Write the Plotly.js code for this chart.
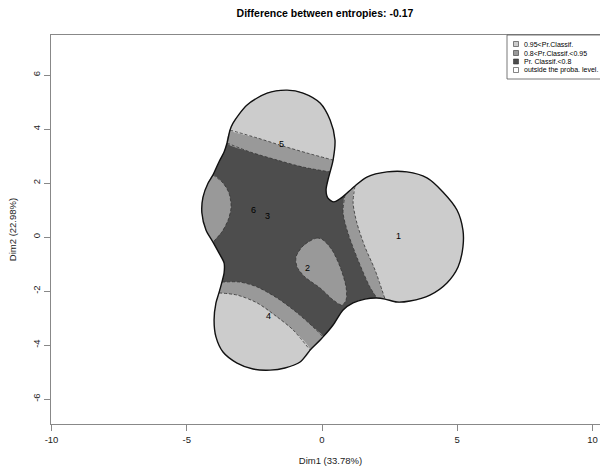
<!DOCTYPE html>
<html><head><meta charset="utf-8">
<script src="https://cdn.plot.ly/plotly-3.0.1.min.js"></script>
<style>html,body{margin:0;padding:0;overflow:hidden;background:#fff}#chart{width:610px;height:469px}</style>
</head><body><div id="chart"></div><script>
// ---- data (Dim1, Dim2 coordinates) ----
const outlineX = [-3.51,-3.40,-3.29,-2.77,-2.03,-1.29,-0.70,-0.07,0.30,0.48,0.41,0.30,0.22,0.15,0.22,0.44,0.70,0.85,1.22,1.66,2.40,3.14,3.88,4.47,4.99,5.21,5.21,5.03,4.62,3.99,3.25,2.77,2.33,2.03,1.59,1.15,0.78,0.41,0.04,-0.44,-0.81,-1.37,-1.92,-2.55,-3.14,-3.66,-3.92,-3.99,-3.92,-3.81,-3.70,-3.62,-3.62,-3.81,-4.03,-4.29,-4.44,-4.40,-4.21,-4.03,-3.81,-3.62];
const outlineY = [3.48,3.96,4.22,4.89,5.33,5.44,5.33,4.96,4.33,3.59,2.85,2.41,2.11,1.74,1.44,1.30,1.44,1.56,1.89,2.22,2.41,2.41,2.19,1.67,1.00,0.26,-0.37,-1.11,-1.70,-2.15,-2.37,-2.41,-2.30,-2.26,-2.30,-2.44,-2.70,-3.26,-3.70,-4.19,-4.63,-4.85,-4.93,-4.89,-4.67,-4.26,-3.70,-3.07,-2.44,-2.07,-1.67,-1.33,-0.96,-0.59,-0.19,0.26,0.89,1.48,2.00,2.30,2.78,3.15];

const topLightMidX = [-3.40,-2.40,-1.44,-0.55,0.41];
const topLightMidY = [3.96,3.67,3.37,3.11,2.85];
const topMidDarkX = [-3.51,-2.66,-1.66,-0.70,0.30];
const topMidDarkY = [3.48,3.15,2.85,2.59,2.41];

const rightLightMidX = [1.22,1.15,1.29,1.59,1.96,2.33];
const rightLightMidY = [1.89,1.26,0.52,-0.37,-1.22,-2.30];
const rightMidDarkX = [0.85,0.78,0.96,1.33,1.77,2.03];
const rightMidDarkY = [1.56,0.89,0.15,-0.85,-1.85,-2.26];

const bottomMidDarkX = [-3.70,-3.03,-2.40,-1.66,-0.92,-0.33,0.04];
const bottomMidDarkY = [-1.67,-1.67,-1.85,-2.26,-2.81,-3.33,-3.70];
const bottomLightMidX = [-3.81,-3.14,-2.40,-1.66,-1.07,-0.44];
const bottomLightMidY = [-2.07,-2.15,-2.44,-2.96,-3.44,-4.19];

const leftBulgeX = [-3.66,-3.44,-3.36,-3.47,-3.70];
const leftBulgeY = [2.00,1.63,1.11,0.63,0.19];

const islandX = [-0.52,-0.18,0.04,0.37,0.67,0.89,0.89,0.74,0.41,-0.07,-0.63,-0.92,-0.96,-0.74];
const islandY = [-0.19,-0.04,-0.11,-0.48,-1.11,-1.85,-2.33,-2.52,-2.33,-1.89,-1.48,-1.11,-0.74,-0.37];

const labelText = ['1','2','3','4','5','6'];
const labelX = [2.81,-0.55,-2.00,-1.96,-1.48,-2.55];
const labelY = [0.04,-1.15,0.78,-2.93,3.44,1.00];

const legendLabels = ['0.95<Pr.Classif.','0.8<Pr.Classif.<0.95','Pr. Classif.<0.8','outside the proba. level.'];
const legendColors = ['#cccccc','#999999','#4d4d4d','#ffffff'];

const xTicks = [-10,-5,0,5,10];
const yTicks = [-6,-4,-2,0,2,4,6];

// ---- build ----
const cLight = legendColors[0], cMid = legendColors[1], cDark = legendColors[2];
function sl(a,i,j){return a.slice(i,j+1);}
function rev(a){return a.slice().reverse();}
function fillTrace(x,y,color){
  return {type:'scatter',mode:'lines',x:x,y:y,fill:'toself',fillcolor:color,
    line:{width:0,shape:'spline',smoothing:0.8},hoverinfo:'skip',showlegend:false};
}
function dashTrace(x,y){
  return {type:'scatter',mode:'lines',x:x,y:y,line:{width:0.8,color:'#333',dash:'3px,2px',shape:'spline',smoothing:0.8},hoverinfo:'skip',showlegend:false};
}
const traces = [];
traces.push(fillTrace(outlineX,outlineY,cDark));
// mid regions
traces.push(fillTrace(sl(outlineX,0,11).concat(rev(topMidDarkX)), sl(outlineY,0,11).concat(rev(topMidDarkY)), cMid));
traces.push(fillTrace(sl(outlineX,17,33).concat(rev(rightMidDarkX)), sl(outlineY,17,33).concat(rev(rightMidDarkY)), cMid));
traces.push(fillTrace(sl(outlineX,38,50).concat(bottomMidDarkX), sl(outlineY,38,50).concat(bottomMidDarkY), cMid));
traces.push(fillTrace(sl(outlineX,54,59).concat(leftBulgeX), sl(outlineY,54,59).concat(leftBulgeY), cMid));
traces.push(fillTrace(islandX,islandY,cMid));
// light regions
traces.push(fillTrace(sl(outlineX,1,10).concat(rev(topLightMidX)), sl(outlineY,1,10).concat(rev(topLightMidY)), cLight));
traces.push(fillTrace(sl(outlineX,18,32).concat(rev(rightLightMidX)), sl(outlineY,18,32).concat(rev(rightLightMidY)), cLight));
traces.push(fillTrace(sl(outlineX,39,49).concat(bottomLightMidX), sl(outlineY,39,49).concat(bottomLightMidY), cLight));
// dashed boundaries
[[topLightMidX,topLightMidY],[topMidDarkX,topMidDarkY],[rightLightMidX,rightLightMidY],[rightMidDarkX,rightMidDarkY],
 [bottomMidDarkX,bottomMidDarkY],[bottomLightMidX,bottomLightMidY],
 [[outlineX[59]].concat(leftBulgeX,[outlineX[54]]),[outlineY[59]].concat(leftBulgeY,[outlineY[54]])],
 [islandX.concat([islandX[0]]),islandY.concat([islandY[0]])]].forEach(p=>traces.push(dashTrace(p[0],p[1])));
// outline
traces.push({type:'scatter',mode:'lines',x:outlineX.concat([outlineX[0]]),y:outlineY.concat([outlineY[0]]),
  line:{width:1.4,color:'#111',shape:'spline',smoothing:0.8},hoverinfo:'skip',showlegend:false});

// plot area pixel geometry
const L=51,T=35,W=559,H=389;
const px=v=>(v-L)/W, py=v=>(T+H-v)/H;

const annotations = labelText.map((t,i)=>({x:labelX[i],y:labelY[i],xref:'x',yref:'y',text:t,showarrow:false,
  font:{size:9,color:'#000'}}));
const shapes = [{type:'rect',xref:'paper',yref:'paper',x0:px(507),x1:px(620),y0:py(79),y1:py(35),
  line:{color:'#555',width:0.8},fillcolor:'#fff'}];
const rowY=[44,53,61.5,70];
legendLabels.forEach((lab,i)=>{
  shapes.push({type:'rect',xref:'paper',yref:'paper',x0:px(513.5),x1:px(518.5),y0:py(rowY[i]+2.5),y1:py(rowY[i]-2.5),
    line:{color:'#333',width:0.6},fillcolor:legendColors[i]});
  annotations.push({xref:'paper',yref:'paper',x:px(522),y:py(rowY[i]),xanchor:'left',yanchor:'middle',text:lab,showarrow:false,
    font:{size:7,color:'#000'}});
});

const axisCommon = {showgrid:false,zeroline:false,showline:true,mirror:true,linecolor:'#888',linewidth:1.2,
  ticks:'outside',ticklen:6,tickcolor:'#888',tickwidth:1,tickfont:{size:9.5,color:'#222'},tickmode:'array'};

const layout = {
  width:610,height:469,
  margin:{l:L,r:0,t:T,b:469-T-H},
  paper_bgcolor:'#fff',plot_bgcolor:'#fff',
  font:{family:'Liberation Sans, Arial, sans-serif'},
  title:{text:'<b>Difference between entropies: -0.17</b>',font:{size:10.5,color:'#000'},x:px(325),xref:'paper',xanchor:'center',y:1-13/469,yanchor:'middle'},
  xaxis:Object.assign({},axisCommon,{range:[(L-322)/27.05,(L+W-322)/27.05],tickvals:xTicks,ticktext:xTicks.map(String),
    title:{text:'Dim1 (33.78%)',font:{size:9.5,color:'#222'},standoff:13}}),
  yaxis:Object.assign({},axisCommon,{range:[(237-T-H)/27,(237-T)/27],tickvals:yTicks,ticktext:yTicks.map(String),tickangle:-90,
    title:{text:'Dim2 (22.98%)',font:{size:9.5,color:'#222'},standoff:12}}),
  annotations:annotations,shapes:shapes,showlegend:false
};
Plotly.newPlot('chart',traces,layout,{staticPlot:true,displayModeBar:false});
</script></body></html>
